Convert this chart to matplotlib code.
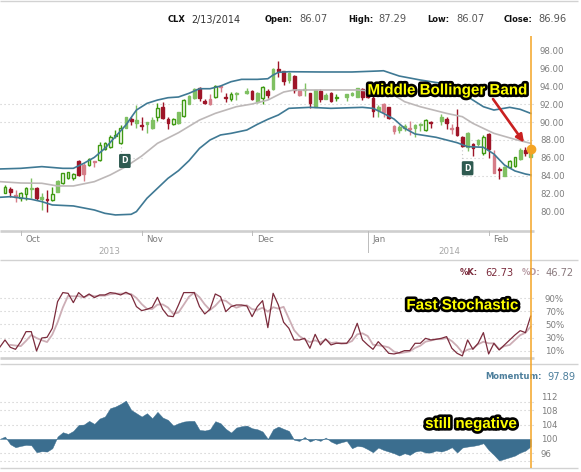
import numpy as np
import matplotlib
matplotlib.use("Agg")
import matplotlib.pyplot as plt
import matplotlib.patheffects as pe

nan = float("nan")
highs = [83.00,82.74,82.44,82.26,82.74,83.74,82.81,82.07,82.44,82.81,83.56,84.30,84.48,84.37,85.78,85.41,85.96,85.70,87.74,87.81,88.56,89.11,89.63,90.59,90.59,91.89,90.52,90.04,90.59,92.07,92.19,90.59,90.41,91.15,92.52,93.00,93.74,93.93,92.59,93.07,94.11,94.07,93.26,93.37,93.37,nan,93.74,93.56,93.37,94.00,93.70,95.96,96.78,95.70,95.59,95.19,93.63,94.30,93.26,93.56,93.63,93.19,93.33,93.11,nan,93.11,93.37,93.81,93.74,93.56,93.56,91.89,92.15,91.70,89.67,89.67,89.78,90.11,89.78,89.93,90.30,90.15,nan,90.89,90.59,89.78,91.41,88.44,88.89,87.70,88.11,88.56,88.74,86.89,85.04,85.11,85.78,86.15,87.07,87.26,87.29]
body_tops = [82.81,82.52,81.89,82.07,82.63,82.70,82.63,81.63,81.41,82.00,83.48,84.30,84.44,84.19,85.70,85.22,85.85,85.63,87.41,87.63,88.30,88.59,89.33,90.52,90.33,90.22,89.67,89.96,90.22,91.52,91.70,90.37,90.33,91.11,92.44,92.93,93.63,93.81,92.30,92.59,94.00,93.96,92.74,93.07,93.22,nan,93.48,93.48,93.26,93.85,93.48,95.89,95.85,95.67,95.41,95.11,93.56,93.63,93.19,93.56,93.48,93.04,93.26,92.81,nan,93.07,93.26,93.74,93.63,93.37,92.63,91.70,91.96,91.63,89.59,89.48,89.56,89.30,89.67,89.78,90.22,90.00,nan,90.59,90.30,89.37,89.48,88.30,88.81,87.59,88.00,88.37,88.63,86.33,84.78,85.04,85.67,86.07,86.89,86.89,86.96]
body_bottoms = [82.15,82.26,81.70,81.52,82.00,82.59,81.52,81.41,81.33,81.33,82.26,83.19,83.78,83.74,84.15,84.22,85.22,85.52,85.78,86.96,87.19,88.44,87.63,89.37,90.15,89.93,89.56,89.78,89.30,90.52,90.41,89.85,89.74,89.85,90.67,92.04,92.70,92.70,92.15,91.96,92.81,93.89,92.63,92.52,93.15,nan,93.26,92.56,92.26,92.63,93.00,93.63,95.70,94.56,94.67,93.56,92.96,93.56,92.07,91.70,92.52,92.59,92.33,92.70,nan,92.81,93.00,92.81,92.81,92.81,91.22,91.33,91.15,90.41,89.00,89.11,89.30,89.19,89.30,89.63,89.11,89.93,nan,90.15,89.93,89.26,88.56,87.33,87.26,87.15,87.52,86.52,86.96,84.37,84.67,84.04,84.96,85.15,85.85,86.59,86.07]
lows = [82.07,81.70,81.15,81.22,81.33,81.52,81.33,80.22,80.04,81.22,82.22,83.11,83.70,83.56,84.04,83.44,85.15,85.04,85.70,86.89,87.11,88.19,87.56,89.30,89.67,89.30,89.11,88.74,89.22,90.15,90.30,89.22,89.67,89.81,90.59,91.96,92.59,92.37,92.00,91.85,92.70,93.33,92.26,92.33,92.44,nan,93.07,92.44,92.15,92.00,92.63,93.56,95.04,94.11,94.37,93.19,92.89,92.93,91.52,91.63,92.22,92.52,92.22,92.33,nan,92.33,92.93,92.74,92.44,92.63,90.59,90.52,90.59,90.30,88.63,88.81,89.00,88.56,88.37,89.00,89.04,89.37,nan,89.67,89.19,88.67,88.48,87.26,86.81,86.22,87.37,86.33,85.96,84.30,83.63,84.00,84.85,85.04,85.78,86.22,86.07]
kinds = list("grRggGrGrgGgggrRgRgggggGrGrGGgrrgGgGGrrRgRrgG-GrGgrGrrGrRGrGrGrg-GGGrrrGRrRGGRGGgr-GrRrrGrGgrRrGggGrG")

upper_x = [-1,3,7,11,13,15,17,19,21,23,25,27,29,31,33,35,37,39,41,43,45,48,50,51,52,54,60,66,71,72,75,79,83,85,87,89,91,93,96,98,100]
upper_band = [84.78,84.85,85.04,84.85,84.85,85.41,86.07,87.07,88.37,89.67,91.33,92.07,92.44,92.70,92.78,93.19,93.70,93.70,94.00,94.48,94.74,94.74,94.81,95.22,95.52,95.59,95.56,95.56,95.67,95.70,95.11,94.67,94.30,93.74,93.19,92.44,91.70,91.33,91.63,91.41,90.96]
lower_x = [-1,1,5,7,9,13,17,19,21,24,25,27,29,31,33,35,37,39,41,43,46,48,50,52,54,58,62,68,70,72,74,76,78,82,86,88,91,93,95,97,99,100]
lower_band = [81.63,81.70,81.41,81.15,80.78,80.67,80.22,79.85,79.67,79.74,80.04,81.52,82.63,83.74,84.59,85.70,87.07,88.00,88.56,88.74,89.11,89.74,90.30,90.78,91.52,91.63,91.52,91.63,91.52,90.96,90.33,89.30,88.67,88.30,87.70,87.26,87.19,86.44,85.22,84.56,84.22,84.11]
middle_x = [-1,3,7,10,13,17,20,23,26,29,33,37,40,44,47,50,53,55,61,67,72,74,76,79,84,87,89,93,97,100]
middle_band = [83.37,83.22,83.19,82.89,82.89,83.37,84.11,85.04,86.22,87.63,88.81,90.22,90.96,91.70,92.00,92.44,93.33,93.56,93.56,93.56,93.33,93.00,92.26,91.70,90.96,90.59,89.85,88.74,88.07,87.63]

pct_k = [15.2,26.4,15.2,12.1,23.8,39.1,39.1,9.6,29.4,30.5,44.2,84.9,98.7,97.6,83.4,98.7,91.5,96.6,91.0,95.1,95.1,98.7,97.6,95.1,99.2,95.1,77.3,71.2,73.2,76.3,91.5,73.2,63.0,62.0,79.8,98.7,98.7,98.7,77.3,66.1,73.2,96.6,92.5,69.6,77.3,79.8,79.8,78.3,62.0,77.3,86.4,45.2,97.6,79.8,53.4,44.2,26.4,26.4,28.9,13.7,35.0,18.8,27.9,18.8,21.3,21.3,21.3,31.5,51.8,26.4,18.8,12.1,23.8,15.2,6.0,5.0,7.0,10.1,10.1,21.3,21.3,28.9,26.4,27.4,28.9,31.5,13.7,6.0,2.0,26.4,12.1,21.3,37.6,5.0,21.3,11.1,18.8,26.4,34.0,40.6,37.6,62.73]
pct_d = [18.9,17.9,17.0,25.0,34.0,29.3,26.0,23.2,34.7,53.2,75.9,93.7,93.0,93.3,91.2,95.3,93.1,94.1,94.0,96.3,97.1,97.1,97.3,96.5,90.5,81.2,73.9,73.6,80.3,80.7,75.9,66.1,68.3,80.2,92.4,98.7,91.6,80.7,72.2,78.6,87.4,86.2,79.8,75.6,78.3,79.3,73.4,72.3,75.6,69.6,76.4,74.2,77.0,59.1,41.3,32.3,27.2,23.0,25.9,22.5,27.2,21.8,22.7,20.5,21.3,24.7,34.9,36.6,32.3,19.1,18.2,17.0,15.0,8.7,6.0,7.4,9.0,14.2,17.6,23.8,25.5,27.6,27.6,29.3,24.7,17.1,7.2,11.5,13.5,19.9,23.7,21.3,21.3,12.5,17.0,18.8,26.3,33.7,37.4,46.72]
momentum = [100,100.66,98.5,97.65,98.03,98.31,98.2,96.24,96.53,96.43,97.37,100.66,101.88,101.41,102.25,103.94,104.04,105.07,104.23,105.73,106.29,108.64,109.11,109.86,110.80,108.17,107.23,106.29,107.23,105.82,107.61,106.01,105.35,103.76,104.41,104.88,105.07,105.07,102.54,102.35,102.72,104.98,104.41,102.82,101.78,103.19,103.57,103.76,103.00,102.72,102.07,100,102.72,103.47,102.82,102.25,99.72,99.44,100.56,99.25,99.91,99.44,100.38,99.25,98.59,99.06,99.44,97.37,98.03,97.84,97.09,96.24,97.56,96.90,96.43,95.96,95.30,95.96,95.49,96.43,96.71,96.15,96.15,96.71,96.43,96.90,97.65,96.15,97.56,97.84,98.03,98.31,98.78,96.90,95.49,93.90,94.37,94.83,95.30,96.15,96.71,97.89]

price_ticks = [98, 96, 94, 92, 90, 88, 86, 84, 82, 80]
stoch_ticks = [90, 70, 50, 30, 10]
mom_ticks = [112, 108, 104, 100, 96]
mom_grid = [110.3, 108, 104, 96, 93.9]
month_labels = ["Oct", "Nov", "Dec", "Jan", "Feb"]
month_sessions = [3, 26, 47, 69, 92]

W, H = 581, 472
GRID = "#c8c8c8"
AX = "#7d7d7d"
ORANGE = "#f4a425"
plt.rcParams["font.family"] = "DejaVu Sans"

fig = plt.figure(figsize=(W / 100, H / 100), dpi=100, facecolor="white")

def rect(x0, y0, x1, y1):
    return [x0 / W, 1 - y1 / H, (x1 - x0) / W, (y1 - y0) / H]

STEP = 5.257
x_left = -5 / STEP
x_right = (534 - 5) / STEP

def panel(y0, y1, ylim, ticks, fmt, pad):
    ax = fig.add_axes(rect(0, y0, 534, y1))
    ax.set_facecolor("none")
    ax.set_xlim(x_left, x_right)
    ax.set_ylim(*ylim)
    for s in ax.spines.values():
        s.set_visible(False)
    ax.set_xticks([])
    ax.yaxis.tick_right()
    ax.set_yticks(ticks)
    ax.set_yticklabels([fmt(t) for t in ticks], color=AX, fontsize=6.2)
    ax.tick_params(axis="y", length=0, pad=pad)
    return ax

ax = panel(36, 230.5, (77.94, 99.56), price_ticks, lambda t: f"{t:.2f}", 4.3)
st = panel(270, 358, (-1.15, 133.2), stoch_ticks, lambda t: f"{t}%", 7.9)
mo = panel(390, 468, (91.8, 113.77), mom_ticks, lambda t: f"{t}", 4.8)

def grid(a, level, start, stop):
    a.plot([start, stop], [level, level], color=GRID, lw=0.8, ls=(0, (1, 2.6)), zorder=1)

for level, start, stop in [(92, x_left, x_right), (90, x_left, x_right), (88, 40, x_right),
                           (86, 23.5, 26), (86, 87, 91), (84, 87, x_right)]:
    grid(ax, level, start, stop)
for level in stoch_ticks:
    grid(st, level, x_left, x_right)
for level in mom_grid:
    grid(mo, level, x_left, x_right)

EDGE = {"g": "#3f9a12", "G": "#7fc062", "r": "#9e1528", "R": "#d67d88"}
FILL = {"g": "white", "G": "#7fc062", "r": "#9e1528", "R": "#d67d88"}
for i, k in enumerate(kinds):
    if k == "-":
        continue
    ax.vlines(i, lows[i], highs[i], color=EDGE[k], lw=1.0, zorder=3)
    ax.bar(i, max(body_tops[i] - body_bottoms[i], 0.1), bottom=body_bottoms[i], width=0.52,
           facecolor=FILL[k], edgecolor=EDGE[k], lw=1.0, zorder=4)

ax.plot(middle_x, middle_band, color="#bdb8b8", lw=1.2, zorder=5)
ax.plot(upper_x, upper_band, color="#3f7994", lw=1.2, zorder=5)
ax.plot(lower_x, lower_band, color="#3f7994", lw=1.2, zorder=5)

st.plot(np.arange(1, 101), pct_d, color="#cdaeb6", lw=1.3, zorder=3)
st.plot(np.arange(-1, 101), pct_k, color="#7b2b3c", lw=0.9, zorder=4)

sess = np.arange(-1, 101)
mo.fill_between(sess, momentum, 100, color="#3b6e8f", lw=0.3, zorder=3)

for sx, top, bottom in [(22, 87.63, 85.67), (87, 87.33, 84.86)]:
    ax.plot([sx, sx], [top, bottom], color=GRID, lw=0.8, ls=(0, (1, 2.4)), zorder=2)
for sx, py in [(22.8, 85.67), (88, 84.86)]:
    ax.text(sx, py, "D", color="white", fontsize=5.6, fontweight="bold", ha="center", va="center", zorder=7,
            bbox=dict(boxstyle="round,pad=0.24,rounding_size=0.1", fc="#2e5a50", ec="#2e5a50"))

ax.plot(100, 86.96, "o", color=ORANGE, ms=6, mec=ORANGE, zorder=9, clip_on=False)

d = fig.add_axes([0, 0, 1, 1], facecolor="none")
d.set_xlim(0, W)
d.set_ylim(H, 0)
d.axis("off")

for y in (0.8, 260, 364, 468):
    d.plot([0, 578], [y, y], color="#d2d2d2", lw=1.0, solid_capstyle="butt")
for y in (230.5, 358):
    d.plot([0, 534], [y, y], color="#cfcfcf", lw=1.9, solid_capstyle="butt")
d.plot([530.7, 530.7], [36, 468], color=ORANGE, lw=1.1, solid_capstyle="butt", zorder=8)

for name, s in zip(month_labels, month_sessions):
    px = 5 + STEP * s
    tall = name == "Jan"
    d.plot([px, px], [231, 252 if tall else 235], color="#bcbcbc", lw=0.7)
    d.text(px + 4.8, 240, name, color=AX, fontsize=6.2, va="center", ha="left")
d.text(109, 251, "2013", color="#a6a6a6", fontsize=6.2, ha="center", va="center")
d.text(449, 251, "2014", color="#a6a6a6", fontsize=6.2, ha="center", va="center")

def t(x, y, s, color, bold=False, size=7.1):
    d.text(x, y, s, color=color, fontsize=6.0 if bold else size, va="center", ha="left",
           fontweight="bold" if bold else "normal")

t(168, 19.5, "CLX", "#111111", True)
t(191.5, 19.5, "2/13/2014", "#333333", size=6.9)
for x, name, xv, val in [(265, "Open:", 299, "86.07"), (348, "High:", 378, "87.29"),
                         (427, "Low:", 456, "86.07"), (504, "Close:", 538, "86.96")]:
    t(x, 19.5, name, "#111111", True)
    t(xv, 19.5, val, "#555555")
t(460, 272.7, "%K:", "#7b2b3c", True)
t(485, 272.7, "62.73", "#7b2b3c")
t(521.5, 272.7, "%D:", "#b79aa2", True)
t(546, 272.7, "46.72", "#8a7a7e")
t(485, 376.7, "Momentum:", "#4d7f9c", True)
t(547, 376.7, "97.89", "#4d7f9c")

def callout(x, y, s):
    d.text(x, y, s, color="#ffff00", fontsize=10.9, fontweight="bold", family="Liberation Sans",
           ha="center", va="center", zorder=10,
           path_effects=[pe.withStroke(linewidth=3.8, foreground="black")])

callout(447.5, 90.5, "Middle Bollinger Band")
callout(462.5, 305.5, "Fast Stochastic")
callout(471, 424, "still negative")

d.annotate("", xy=(524, 142.5), xytext=(493, 99),
           arrowprops=dict(arrowstyle="-|>,head_length=0.45,head_width=0.22", color="#c92020", lw=1.9,
                           shrinkA=0, shrinkB=0), zorder=9)

fig.savefig("out.png", dpi=100)
